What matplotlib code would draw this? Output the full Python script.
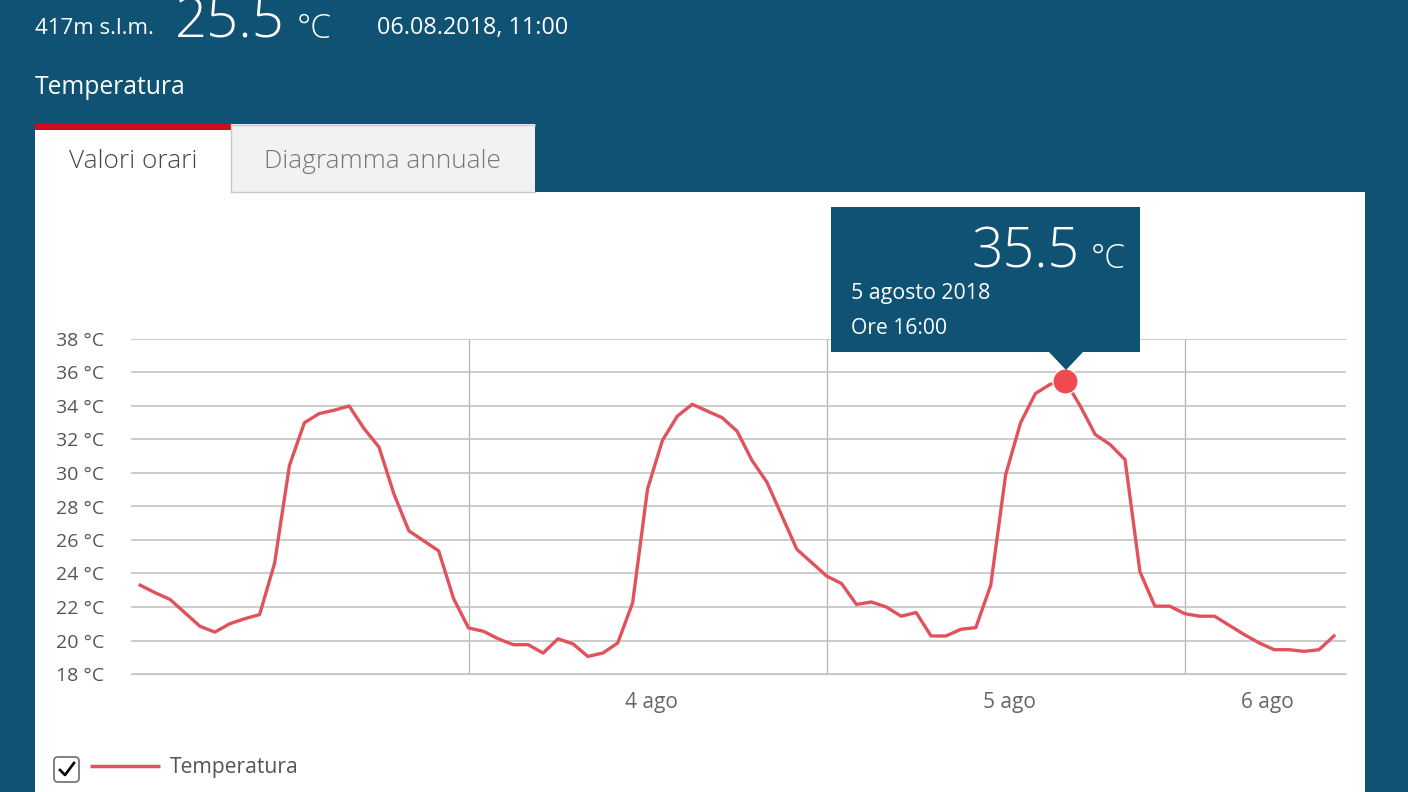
"""
Hourly temperature panel: dark header, tabs, line chart with tooltip.
"""

import pandas as pd
import matplotlib.pyplot as plt
import matplotlib.dates as mdates
from matplotlib.patches import Rectangle, Polygon, FancyBboxPatch

plt.rcParams['font.family'] = ['Open Sans', 'DejaVu Sans']

temps = [23.3, 22.85, 22.45, 21.65, 20.85, 20.5, 21.0, 21.3, 21.55, 24.6,
         30.45, 33.0, 33.55, 33.75, 34.0, 32.65, 31.55, 28.75, 26.55, 25.95,
         25.35, 22.5, 20.75, 20.55, 20.1, 19.75, 19.75, 19.25, 20.1, 19.8,
         19.05, 19.25, 19.85, 22.25, 29.05, 31.95, 33.4, 34.1, 33.7, 33.3,
         32.5, 30.75, 29.45, 27.45, 25.45, 24.65, 23.85, 23.4, 22.15, 22.3,
         22.0, 21.45, 21.67, 20.27, 20.27, 20.67, 20.77, 23.3, 29.9, 33.0,
         34.75, 35.3, 35.5, 34.0, 32.3, 31.7, 30.8, 24.1, 22.05, 22.05,
         21.6, 21.45, 21.45, 20.9, 20.35, 19.85, 19.45, 19.45, 19.35, 19.45,
         20.27]
times = pd.date_range('2018-08-03 02:00', periods=len(temps), freq='h')

y_ticks = [18, 20, 22, 24, 26, 28, 30, 32, 34, 36, 38]
day_lines = pd.to_datetime(['2018-08-04', '2018-08-05', '2018-08-06'])
x_tick_times = pd.to_datetime(['2018-08-04 12:14', '2018-08-05 12:14', '2018-08-06 05:34'])
x_tick_labels = ['4 ago', '5 ago', '6 ago']
peak_time = pd.Timestamp('2018-08-05 16:00')
peak_temp = 35.5

BLUE = '#0f5274'
RED = '#e0525c'
TEXT = '#555555'

fig = plt.figure(figsize=(14.08, 7.92), dpi=100, facecolor=BLUE)

# page furniture, in pixel coordinates
bg = fig.add_axes([0, 0, 1, 1], zorder=0)
bg.set_xlim(0, 1408)
bg.set_ylim(792, 0)
bg.axis('off')
bg.add_patch(Rectangle((35, 192), 1330, 600, fc='white', ec='none'))
bg.add_patch(Rectangle((231, 124), 304, 68, fc='#f2f2f2', ec='none'))
bg.plot([231, 535], [124.5, 124.5], color='#c8c8c8', lw=1)
bg.plot([231, 231], [124, 192], color='#c8c8c8', lw=1)
bg.plot([231, 535], [192, 192], color='#c8c8c8', lw=1)
bg.add_patch(Rectangle((35, 124), 195.5, 70, fc='white', ec='none'))
bg.add_patch(Rectangle((35, 124), 195.5, 6, fc='#cf0a22', ec='none'))

bg.text(35, 28, '417m s.l.m.', color='white', fontsize=16, va='center')
bg.text(175, 38, '25.5', color='white', fontsize=40.5, fontweight='light', va='baseline')
bg.text(297, 38, '°C', color='white', fontsize=24, fontweight='light', va='baseline')
bg.text(377, 28, '06.08.2018, 11:00', color='white', fontsize=16.8, va='center')
bg.text(35, 88, 'Temperatura', color='white', fontsize=17.7, va='center')
bg.text(69, 161, 'Valori orari', color='#444444', fontsize=18.9, fontweight='light', va='center')
bg.text(264, 161, 'Diagramma annuale', color='#777777', fontsize=18.8, fontweight='light', va='center')

# legend
bg.add_patch(FancyBboxPatch((54, 757), 25, 25, boxstyle='round,pad=0,rounding_size=4',
                            fc='white', ec='#777777', lw=1.3))
bg.plot([60, 65, 74], [770, 775, 763], color='black', lw=1.9)
bg.plot([90, 160], [766, 766], color=RED, lw=2.5, solid_capstyle='butt')
bg.text(170, 767, 'Temperatura', color=TEXT, fontsize=15.2, va='center')

# chart
ax = fig.add_axes([131 / 1408, 1 - 674 / 792, (1346 - 131) / 1408, (674 - 339) / 792], zorder=1)
ax.patch.set_alpha(0)
ax.plot(times, temps, color=RED, lw=2.4, solid_joinstyle='round', zorder=3)
ax.scatter([peak_time], [peak_temp], s=330, color='#ef4a50', edgecolor='white', linewidth=1, zorder=4)
ax.set_ylim(18, 38)
ax.set_xlim(pd.Timestamp('2018-08-05') - pd.Timedelta(hours=46.62),
            pd.Timestamp('2018-08-05') + pd.Timedelta(hours=34.81))
ax.set_yticks(y_ticks)
ax.set_yticklabels([f'{t} °C' for t in y_ticks])
ax.tick_params(axis='y', length=0, pad=19, labelsize=14, labelcolor=TEXT)
ax.tick_params(axis='x', length=0, pad=13, labelsize=15, labelcolor='#666666')
ax.grid(axis='y', color='#bfbfbf', lw=1.1, zorder=1)
ax.vlines(day_lines, 18, 38, color='#b5b5b5', lw=0.9, zorder=1)
for side in ['top', 'left', 'right']:
    ax.spines[side].set_visible(False)
ax.spines['bottom'].set_color('#c6c6c6')
ax.xaxis.set_major_locator(plt.FixedLocator(mdates.date2num(x_tick_times)))
ax.xaxis.set_major_formatter(plt.FixedFormatter(x_tick_labels))

# tooltip
top = fig.add_axes([0, 0, 1, 1], zorder=2)
top.set_xlim(0, 1408)
top.set_ylim(792, 0)
top.axis('off')
top.add_patch(Rectangle((831, 207), 309, 145, fc=BLUE, ec='none'))
top.add_patch(Polygon([(1049, 352), (1083, 352), (1066, 370)], fc=BLUE, ec='none'))
top.text(1080, 268, '35.5', color='white', fontsize=40, fontweight='light', ha='right', va='baseline')
top.text(1091, 268, '°C', color='white', fontsize=24, fontweight='light', va='baseline')
top.text(851, 293, '5 agosto 2018', color='white', fontsize=15.4, va='center')
top.text(851, 328, 'Ore 16:00', color='white', fontsize=15.2, va='center')

fig.savefig('out.png', dpi=100, facecolor=BLUE)
